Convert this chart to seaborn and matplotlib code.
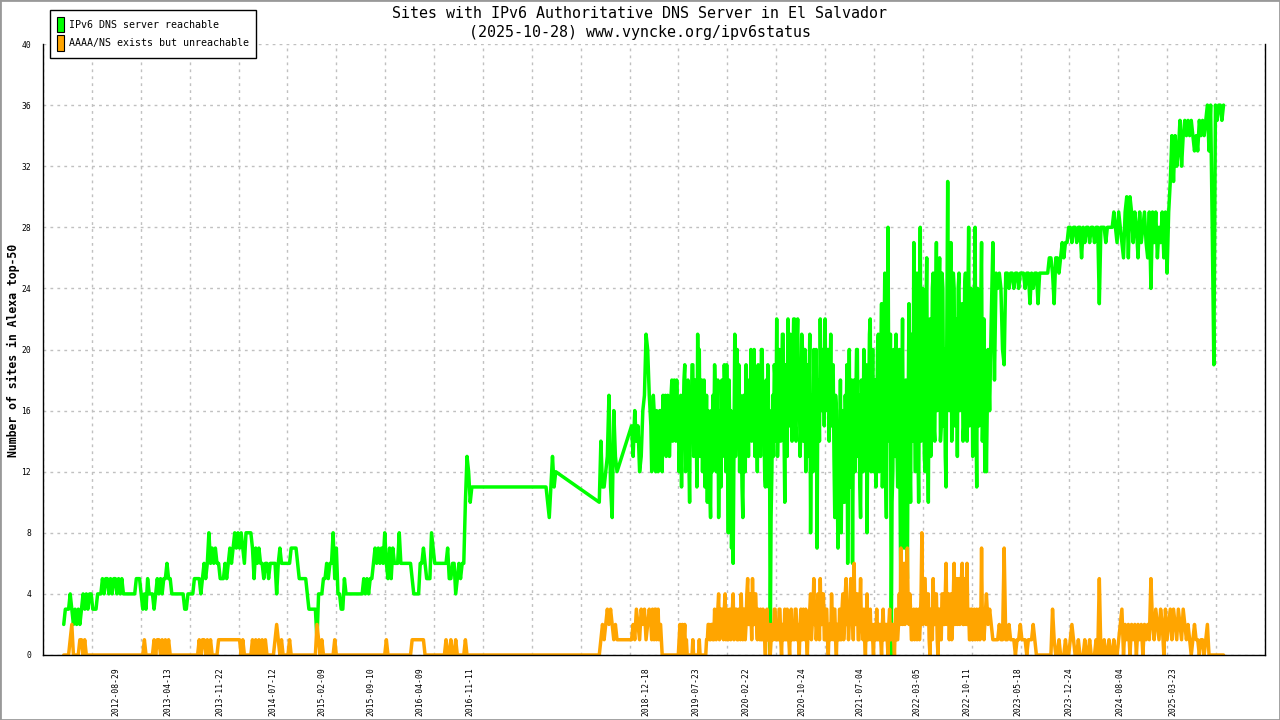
import numpy as np
import pandas as pd
import matplotlib
matplotlib.use("Agg")
import matplotlib.pyplot as plt
import matplotlib.dates as mdates
from matplotlib.patches import Patch, Rectangle
import seaborn as sns

N = None

# weekly samples starting 2012-01-16, one block of 52 weeks per (roughly) year
reach_2012 = [2, 3, 3, 3, 4, 3, 2, 3, 2, 3, 2, 3, 4, 3, 4, 3, 4, 4, 3, 3,
              3, 4, 4, 4, 5, 4, 5, 5, 4, 5, 4, 5, 5, 4, 5, 4, 5, 4, 4, 4,
              4, 4, 4, 4, 4, 5, 5, 5, 4, 3, 4, 3]
reach_2013 = [5, 4, 4, 4, 3, 4, 5, 4, 5, 4, 5, 5, 6, 5, 5, 4, 4, 4, 4, 4,
              4, 4, 4, 3, 3, 4, 4, 4, 4, 5, 5, 5, 5, 4, 5, 6, 5, 6, 8, 6,
              7, 6, 7, 6, 6, 5, 5, 5, 6, 5, 6, 7]
reach_2014 = [6, 7, 8, 7, 8, 7, 8, 7, 6, 8, 8, 8, 8, 7, 5, 7, 6, 7, 6, 6,
              5, 6, 6, 5, 6, 6, 6, 6, 4, 6, 7, 6, 6, 6, 6, 6, 6, 7, 7, 7,
              7, 6, 5, 5, 5, 5, 5, 4, 3, 3, 3, 3]
reach_2015 = [3, 1, 4, 4, 4, 5, 5, 6, 5, 6, 6, 8, 5, 7, 4, 4, 3, 3, 5, 4,
              4, 4, 4, 4, 4, 4, 4, 4, 4, 4, 5, 4, 5, 4, 5, 5, 6, 7, 6, 7,
              6, 7, 6, 8, 6, 5, 7, 5, 7, 6, 6, 6]
reach_2016 = [8, 6, 6, 6, 6, 6, 6, 6, 5, 4, 4, 4, 4, 6, 6, 7, 6, 5, 5, 5,
              8, 7, 6, 6, 6, 6, 6, 6, 6, 6, 7, 5, 5, 6, 6, 4, 5, 6, 5, 6,
              6, 10, 13, 12, 10, 11, 11, 11, 11, 11, 11, 11]
reach_2017 = [N] * 39 + [11, 10, 9, 11, 13, 11, 12] + [N] * 6
reach_2018 = ([N] * 20 + [10, 14, 11, 11, 12, 13, 17, 11, 9, 16, 13, 12] + [N] * 8
              + [15, 13, 16, 14, 15, 12, 13, 16, 17, 21, 20, 17])
reach_2019 = [15, 14, 16, 12, 15, 13, 16, 12, 14, 17, 15, 16, 15, 18, 16, 17, 18, 16, 14, 11,
              15, 19, 14, 18, 10, 15, 19, 14, 17, 21, 20, 14, 12, 18, 13, 10, 15, 9, 12, 14,
              17, 15, 9, 16, 18, 14, 17, 19, 8, 13, 7, 6]
reach_2020 = [21, 16, 14, 12, 15, 9, 16, 19, 17, 18, 20, 15, 20, 18, 12, 14, 13, 20, 17, 11,
              14, 11, 0, 12, 13, 18, 22, 16, 19, 17, 21, 10, 18, 22, 15, 20, 19, 22, 14, 22,
              18, 15, 20, 17, 12, 19, 17, 8, 17, 20, 14, 7]
reach_2021 = [18, 22, 16, 20, 22, 17, 20, 17, 15, 19, 9, 16, 7, 12, 8, 16, 10, 14, 6, 20,
              12, 6, 18, 16, 20, 17, 9, 16, 20, 14, 8, 16, 22, 15, 12, 18, 14, 21, 13, 23,
              14, 25, 9, 28, 14, 0, 12, 18, 21, 11, 20, 3]
reach_2022 = [22, 7, 18, 5, 23, 10, 19, 27, 12, 25, 10, 28, 15, 21, 12, 26, 10, 22, 17, 25,
              14, 27, 18, 26, 15, 24, 20, 11, 31, 16, 27, 18, 24, 16, 13, 25, 17, 23, 15, 25,
              14, 28, 16, 22, 14, 28, 11, 20, 16, 27, 17, 12]
reach_2023 = [12, 20, 16, 22, 27, 18, 25, 24, 25, 24, 20, 19, 25, 25, 24, 25, 25, 24, 25, 25,
              24, 25, 25, 25, 24, 25, 25, 23, 25, 24, 25, 25, 23, 25, 25, 25, 25, 25, 25, 26,
              26, 25, 23, 26, 26, 25, 26, 27, 26, 27, 27, 28]
reach_2024 = [28, 27, 28, 28, 27, 28, 28, 26, 28, 27, 28, 28, 27, 28, 28, 27, 28, 28, 23, 28,
              28, 28, 27, 28, 28, 28, 28, 29, 28, 27, 29, 28, 27, 26, 29, 30, 26, 30, 29, 27,
              29, 28, 26, 29, 27, 28, 29, 27, 26, 29, 24, 29]
reach_2025 = [27, 29, 26, 28, 27, 29, 26, 29, 25, 29, 31, 34, 31, 34, 32, 33, 35, 32, 34, 35,
              34, 35, 34, 35, 34, 33, 34, 33, 35, 34, 35, 34, 35, 36, 33, 36, 28, 19, 36, 35,
              36, 36, 35, 36]

# extra mid-week readings for the noisy 2019-2022 stretch
reach_mid_2019 = [12, 17, 13, 16, 12, 16, 13, 17, 16, 13, 17, 13, 17, 14, 18, 14, 15, 12, 17, 16,
                  18, 12, 17, 13, 17, 19, 13, 18, 11, 15, 13, 18, 16, 11, 17, 16, 11, 16, 17, 19,
                  12, 18, 14, 11, 13, 19, 12, 14, 18, 16, 12, 14]
reach_mid_2020 = [13, 20, 19, 17, 11, 17, 12, 14, 13, 15, 14, 19, 13, 16, 19, 18, 20, 14, 12, 18,
                  19, 16, 9, 17, 19, 14, 13, 20, 14, 21, 15, 19, 13, 16, 21, 14, 22, 15, 20, 16,
                  13, 21, 14, 20, 18, 13, 21, 15, 12, 16, 20, 17]
reach_mid_2021 = [14, 17, 20, 15, 16, 20, 14, 21, 19, 13, 17, 11, 15, 18, 14, 10, 17, 19, 13, 11,
                  18, 15, 12, 20, 13, 11, 18, 12, 13, 19, 15, 21, 12, 20, 17, 11, 20, 12, 19, 11,
                  20, 12, 19, 16, 21, 10, 20, 13, 14, 19, 10, 16]
reach_mid_2022 = [12, 17, 9, 16, 13, 21, 14, 17, 22, 14, 20, 14, 24, 13, 22, 15, 20, 13, 24, 15,
                  22, 16, 23, 14, 25, 15, 13, 22, 17, 24, 14, 25, 15, 22, 24, 16, 22, 14, 24, 16,
                  23, 15, 24, 13, 22, 16, 24, 15, 23, 14, 22, 19]

unreach_2012 = [0, 0, 0, 0, 1, 2, 0, 0, 0, 0, 1, 1, 0, 1, 0, 0, 0, 0, 0, 0,
                0, 0, 0, 0, 0, 0, 0, 0, 0, 0, 0, 0, 0, 0, 0, 0, 0, 0, 0, 0,
                0, 0, 0, 0, 0, 0, 0, 0, 0, 0, 1, 0]
unreach_2013 = [0, 0, 0, 0, 1, 0, 1, 1, 0, 1, 0, 1, 0, 1, 0, 0, 0, 0, 0, 0,
                0, 0, 0, 0, 0, 0, 0, 0, 0, 0, 0, 0, 1, 0, 1, 1, 0, 1, 0, 1,
                0, 0, 0, 0, 1, 1, 1, 1, 1, 1, 1, 1]
unreach_2014 = [1, 1, 1, 1, 1, 1, 0, 1, 0, 0, 0, 0, 0, 1, 0, 1, 0, 1, 0, 1,
                0, 1, 0, 0, 0, 0, 0, 1, 2, 1, 0, 1, 0, 0, 0, 0, 1, 0, 0, 0,
                0, 0, 0, 0, 0, 0, 0, 0, 0, 0, 0, 0]
unreach_2015 = [0, 2, 1, 0, 1, 0, 0, 0, 0, 0, 0, 0, 1, 0, 0, 0, 0, 0, 0, 0,
                0, 0, 0, 0, 0, 0, 0, 0, 0, 0, 0, 0, 0, 0, 0, 0, 0, 0, 0, 0,
                0, 0, 0, 0, 1, 0, 0, 0, 0, 0, 0, 0]
unreach_2016 = [0, 0, 0, 0, 0, 0, 0, 0, 1, 1, 1, 1, 1, 1, 1, 1, 0, 0, 0, 0,
                0, 0, 0, 0, 0, 0, 0, 0, 0, 1, 0, 0, 1, 0, 0, 1, 0, 0, 0, 0,
                0, 1, 0, 0, 0, 0, 0, 0, 0, 0, 0, 0]
unreach_2017 = [N] * 39 + [0, 0, 0, 0, 0, 0, 0] + [N] * 6
unreach_2018 = ([N] * 20 + [0, 1, 2, 1, 2, 3, 2, 3, 2, 1, 2, 1] + [N] * 8
                + [1, 2, 1, 3, 2, 1, 3, 2, 3, 1, 2, 3])
unreach_2019 = [2, 3, 1, 3, 2, 1, 2, 0, 0, 0, 0, 0, 0, 0, 0, 0, 0, 0, 2, 1,
                0, 2, 1, 0, 0, 0, 1, 0, 0, 0, 1, 0, 0, 0, 0, 1, 2, 1, 2, 1,
                2, 2, 4, 2, 3, 1, 4, 2, 1, 3, 2, 4]
unreach_2020 = [2, 3, 1, 2, 4, 1, 3, 2, 5, 2, 3, 5, 2, 4, 1, 2, 3, 1, 2, 0,
                3, 1, 0, 2, 1, 3, 2, 1, 3, 0, 2, 3, 1, 2, 0, 3, 2, 1, 3, 2,
                0, 3, 1, 2, 3, 0, 2, 4, 2, 5, 3, 2]
unreach_2021 = [3, 5, 2, 4, 1, 3, 0, 2, 4, 1, 3, 0, 2, 3, 1, 4, 2, 5, 3, 2,
                5, 3, 6, 2, 4, 1, 5, 2, 3, 0, 4, 1, 3, 2, 0, 2, 3, 1, 2, 0,
                3, 1, 2, 0, 3, 1, 2, 0, 3, 1, 4, 7]
unreach_2022 = [2, 6, 3, 7, 2, 3, 1, 3, 2, 1, 3, 2, 8, 3, 5, 2, 4, 0, 3, 5,
                2, 4, 0, 3, 1, 4, 2, 6, 3, 1, 4, 2, 6, 3, 2, 5, 3, 6, 2, 4,
                6, 3, 1, 3, 2, 1, 3, 2, 1, 7, 3, 2]
unreach_2023 = [4, 2, 3, 2, 1, 1, 1, 1, 2, 1, 1, 7, 1, 1, 2, 1, 1, 1, 0, 1,
                1, 2, 1, 1, 1, 0, 1, 1, 1, 2, 1, 0, 0, 0, 0, 0, 0, 0, 0, 0,
                0, 3, 1, 0, 0, 1, 0, 0, 0, 1, 0, 0]
unreach_2024 = [1, 2, 1, 0, 0, 1, 0, 0, 0, 1, 0, 0, 1, 0, 0, 0, 1, 0, 5, 0,
                0, 1, 0, 0, 1, 0, 0, 1, 0, 0, 1, 2, 3, 0, 2, 1, 2, 0, 2, 1,
                2, 0, 2, 1, 2, 0, 2, 1, 2, 1, 5, 2]
unreach_2025 = [1, 3, 2, 1, 3, 2, 0, 3, 1, 2, 3, 1, 3, 2, 1, 3, 2, 1, 3, 2,
                1, 2, 1, 0, 1, 2, 1, 1, 0, 1, 1, 0, 1, 2, 0, 0, 0, 0, 0, 0,
                0, 0, 0, 0]

unreach_mid_2019 = [1, 2, 3, 1, 3, 2, 1, 0, 0, 0, 0, 0, 0, 0, 0, 0, 0, 1, 0, 2,
                    1, 0, 0, 0, 0, 0, 0, 0, 0, 0, 0, 0, 0, 0, 1, 2, 1, 2, 1, 3,
                    1, 3, 1, 3, 2, 3, 1, 3, 2, 1, 3, 1]
unreach_mid_2020 = [3, 1, 3, 1, 2, 3, 1, 4, 2, 4, 1, 2, 4, 2, 3, 1, 1, 3, 1, 2,
                    1, 2, 1, 1, 3, 1, 1, 3, 1, 2, 1, 1, 3, 1, 2, 1, 1, 3, 1, 1,
                    2, 1, 3, 1, 1, 2, 3, 1, 3, 2, 1, 4]
unreach_mid_2021 = [1, 2, 4, 1, 3, 1, 2, 1, 2, 3, 1, 2, 1, 1, 3, 1, 4, 2, 1, 4,
                    2, 1, 2, 4, 1, 3, 2, 1, 1, 2, 1, 2, 1, 1, 2, 1, 1, 2, 1, 2,
                    1, 2, 1, 2, 1, 2, 1, 2, 1, 2, 2, 3]
unreach_mid_2022 = [4, 2, 5, 3, 4, 1, 2, 1, 3, 2, 1, 4, 2, 5, 2, 4, 1, 3, 1, 2,
                    4, 1, 3, 1, 4, 2, 4, 2, 4, 3, 1, 4, 2, 5, 4, 2, 5, 2, 5, 2,
                    2, 1, 3, 1, 3, 2, 1, 3, 2, 2, 1, 3]

tick_dates = ["2012-08-29", "2013-04-13", "2013-11-22", "2014-07-12", "2015-02-09",
              "2015-09-10", "2016-04-09", "2016-11-11", "2018-12-18", "2019-07-23",
              "2020-02-22", "2020-10-24", "2021-07-04", "2022-03-05", "2022-10-11",
              "2023-05-18", "2023-12-24", "2024-08-04", "2025-03-23"]

early = reach_2012 + reach_2013 + reach_2014 + reach_2015 + reach_2016 + reach_2017 + reach_2018
reachable = (early + reach_2019 + reach_2020 + reach_2021 + reach_2022
             + reach_2023 + reach_2024 + reach_2025)
unreachable = (unreach_2012 + unreach_2013 + unreach_2014 + unreach_2015 + unreach_2016 + unreach_2017
               + unreach_2018 + unreach_2019 + unreach_2020 + unreach_2021 + unreach_2022 + unreach_2023
               + unreach_2024 + unreach_2025)
reach_mid = reach_mid_2019 + reach_mid_2020 + reach_mid_2021 + reach_mid_2022
unreach_mid = unreach_mid_2019 + unreach_mid_2020 + unreach_mid_2021 + unreach_mid_2022

weeks = pd.date_range("2012-01-16", periods=len(reachable), freq="7D")
weekly = pd.DataFrame({
    "date": weeks,
    "reachable": pd.array(reachable, dtype="Float64").astype(float),
    "unreachable": pd.array(unreachable, dtype="Float64").astype(float),
})
midweek = pd.DataFrame({
    "date": pd.date_range(weeks[len(early)] + pd.Timedelta(hours=84), periods=len(reach_mid), freq="7D"),
    "reachable": np.array(reach_mid, dtype=float),
    "unreachable": np.array(unreach_mid, dtype=float),
})
df = pd.concat([weekly, midweek]).sort_values("date").reset_index(drop=True)

sns.set_style("white")
plt.rcParams["font.family"] = ["DejaVu Sans Mono", "Liberation Mono"]
plt.rcParams.update({"text.color": "black", "axes.labelcolor": "black",
                     "xtick.color": "black", "ytick.color": "black"})

GREEN = "#00ff00"
ORANGE = "#ffa500"

fig = plt.figure(figsize=(12.8, 7.2), dpi=100)
ax = fig.add_axes([43 / 1280, 65 / 720, 1222 / 1280, 611 / 720])

sns.lineplot(data=df.dropna(subset=["reachable"]), x="date", y="reachable", color=GREEN,
             linewidth=2.5, estimator=None, sort=False, ax=ax)
sns.lineplot(data=df.dropna(subset=["unreachable"]), x="date", y="unreachable", color=ORANGE,
             linewidth=2.5, estimator=None, sort=False, ax=ax)

x0 = mdates.date2num(pd.Timestamp("2011-10-18"))
x1 = mdates.date2num(pd.Timestamp("2026-04-25"))
ax.set_xlim(x0, x1)
ax.set_ylim(0, 40)

ax.set_xticks(mdates.date2num(pd.to_datetime(tick_dates)))
ax.set_xticklabels(tick_dates, rotation=90, fontsize=5.8)
ax.set_xticks(np.linspace(x0, x1, 26), minor=True)
ax.tick_params(axis="x", which="major", length=0, pad=9)
ax.tick_params(axis="x", which="minor", length=4, width=1, direction="out", color="black")

ax.set_yticks(range(0, 41, 4))
ax.set_yticklabels([str(v) for v in range(0, 41, 4)], fontsize=5.8)
ax.tick_params(axis="y", length=7, width=1, direction="inout", color="black", pad=5)

ax.grid(False)
ax.grid(which="minor", axis="x", color="#c0c0c0", linestyle=(0, (2, 3)), linewidth=1)
ax.grid(which="major", axis="y", color="#c0c0c0", linestyle=(0, (2, 3)), linewidth=1)
ax.set_axisbelow(True)

for side in ["left", "bottom", "right"]:
    ax.spines[side].set_color("black")
    ax.spines[side].set_linewidth(1)
ax.spines["top"].set_visible(False)

ax.set_xlabel("")
ax.set_ylabel("")
fig.text(13 / 1280, 1 - 350 / 720, "Number of sites in Alexa top-50", rotation=90,
         ha="center", va="center", fontsize=8.3, fontweight="bold")

fig.text(640 / 1280, 1 - 14 / 720, "Sites with IPv6 Authoritative DNS Server in El Salvador",
         ha="center", va="center", fontsize=10.8)
fig.text(640 / 1280, 1 - 33 / 720, "(2025-10-28) www.vyncke.org/ipv6status",
         ha="center", va="center", fontsize=10.8)

handles = [Patch(facecolor=GREEN, edgecolor="black", linewidth=0.8),
           Patch(facecolor=ORANGE, edgecolor="black", linewidth=0.8)]
leg = fig.legend(handles, ["IPv6 DNS server reachable", "AAAA/NS exists but unreachable"],
                 loc="upper left", bbox_to_anchor=(50 / 1280, 1 - 10 / 720), fontsize=7.2,
                 frameon=True, fancybox=False, edgecolor="black", framealpha=1,
                 handlelength=0.7, handleheight=2.0, handletextpad=0.5,
                 borderpad=0.7, labelspacing=0.3, borderaxespad=0, labelcolor="black")
leg.get_frame().set_linewidth(1)

fig.patches.append(Rectangle((0, 0), 1, 1, transform=fig.transFigure, fill=False,
                             edgecolor="#999999", linewidth=2))

fig.savefig("out.png", dpi=100)
